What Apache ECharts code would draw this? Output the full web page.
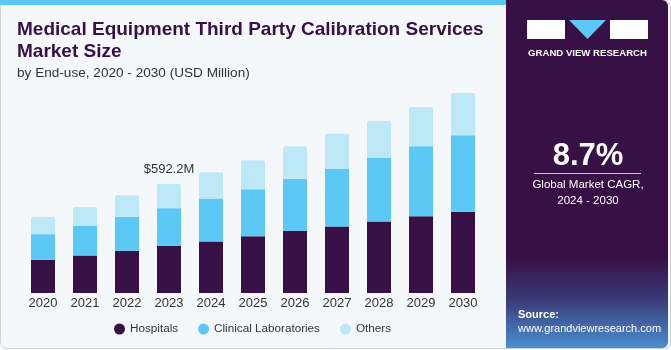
<!DOCTYPE html>
<html>
<head>
<meta charset="utf-8">
<script src="https://cdn.jsdelivr.net/npm/echarts@6/dist/echarts.min.js"></script>
<style>
  html, body { margin: 0; padding: 0; background: #ffffff; }
  #chart { width: 671px; height: 350px; }
</style>
</head>
<body>
<div id="chart"></div>
<script>
  var years = ['2020', '2021', '2022', '2023', '2024', '2025', '2026', '2027', '2028', '2029', '2030'];
  var hospitals = [180.4, 203.7, 229.2, 256.3, 279.6, 308.8, 337.5, 360.8, 387.9, 417.2, 440.5];
  var clinicalLabs = [139.2, 162.5, 184.2, 204.3, 233.0, 254.6, 283.4, 314.2, 345.1, 379.3, 415.6];
  var others = [93.7, 101.3, 117.6, 131.6, 143.0, 157.1, 175.5, 189.6, 200.5, 212.9, 229.2];
  var highlightLabel = '$592.2M';
  var highlightIndex = 3;

  var myChart = echarts.init(document.getElementById('chart'));

  var othersData = others.map(function(v, i) {
    if (i === highlightIndex) {
      return {
        value: v,
        label: {
          show: true,
          position: 'top',
          distance: 8,
          formatter: highlightLabel,
          color: '#333333',
          fontSize: 13,
          fontFamily: 'Liberation Sans'
        }
      };
    }
    return v;
  });

  var option = {
    animation: false,
    textStyle: { fontFamily: 'Liberation Sans' },
    graphic: [
      // page background + border
      {
        type: 'rect', z: -10, silent: true,
        shape: { x: 0.5, y: 0.5, width: 670, height: 348, r: 6 },
        style: { fill: '#f4f8fb', stroke: '#cfd3d6', lineWidth: 1 }
      },
      // top cyan stripe
      {
        type: 'rect', z: -9, silent: true,
        shape: { x: 0, y: 0, width: 506, height: 5 },
        style: { fill: '#5bc8f5' }
      },
      // right panel
      {
        type: 'rect', z: -9, silent: true,
        shape: { x: 506, y: 0, width: 162, height: 348, r: [0, 6, 6, 0] },
        style: {
          fill: new echarts.graphic.LinearGradient(0, 0, 0, 1, [
            { offset: 0, color: '#371046' },
            { offset: 0.74, color: '#371046' },
            { offset: 0.86, color: '#3a3a78' },
            { offset: 1, color: '#4a8fd2' }
          ])
        }
      },
      // logo
      {
        type: 'rect', silent: true,
        shape: { x: 527, y: 20, width: 38, height: 19 },
        style: { fill: '#ffffff' }
      },
      {
        type: 'polygon', silent: true,
        shape: { points: [[569, 20], [606, 20], [587.5, 39]] },
        style: { fill: '#5bc8f5' }
      },
      {
        type: 'rect', silent: true,
        shape: { x: 610, y: 20, width: 38, height: 19 },
        style: { fill: '#ffffff' }
      },
      {
        type: 'text', silent: true,
        style: {
          x: 587.5, y: 53, text: 'GRAND VIEW RESEARCH',
          align: 'center', verticalAlign: 'middle',
          fill: '#ffffff', font: 'bold 9.6px "Liberation Sans"'
        }
      },
      // CAGR
      {
        type: 'text', silent: true,
        style: {
          x: 588, y: 156, text: '8.7%',
          align: 'center', verticalAlign: 'middle',
          fill: '#ffffff', font: 'bold 31px "Liberation Sans"'
        }
      },
      {
        type: 'line', silent: true,
        shape: { x1: 534, y1: 173.5, x2: 641, y2: 173.5 },
        style: { stroke: '#cfc3d6', lineWidth: 1 }
      },
      {
        type: 'text', silent: true,
        style: {
          x: 588, y: 193, text: 'Global Market CAGR,\n2024 - 2030',
          align: 'center', verticalAlign: 'middle', lineHeight: 16,
          fill: '#ffffff', font: '11.5px "Liberation Sans"'
        }
      },
      // source
      {
        type: 'text', silent: true,
        style: {
          x: 518, y: 315, text: 'Source:',
          verticalAlign: 'middle',
          fill: '#ffffff', font: 'bold 11px "Liberation Sans"'
        }
      },
      {
        type: 'text', silent: true,
        style: {
          x: 518, y: 329, text: 'www.grandviewresearch.com',
          verticalAlign: 'middle',
          fill: '#ffffff', font: '11px "Liberation Sans"'
        }
      },
      // titles
      {
        type: 'text', silent: true,
        style: {
          x: 17, y: 30, text: 'Medical Equipment Third Party Calibration Services',
          verticalAlign: 'middle',
          fill: '#371046', font: 'bold 19px "Liberation Sans"'
        }
      },
      {
        type: 'text', silent: true,
        style: {
          x: 17, y: 52, text: 'Market Size',
          verticalAlign: 'middle',
          fill: '#371046', font: 'bold 19px "Liberation Sans"'
        }
      },
      {
        type: 'text', silent: true,
        style: {
          x: 17, y: 73, text: 'by End-use, 2020 - 2030 (USD Million)',
          verticalAlign: 'middle',
          fill: '#333333', font: '13.6px "Liberation Sans"'
        }
      }
    ],
    legend: {
      left: 109,
      top: 318,
      icon: 'circle',
      itemWidth: 11,
      itemHeight: 11,
      itemGap: 20,
      textStyle: { color: '#333333', fontSize: 11.7, fontFamily: 'Liberation Sans' },
      data: ['Hospitals', 'Clinical Laboratories', 'Others']
    },
    grid: { left: 22, right: 187, top: 72, bottom: 57 },
    xAxis: {
      type: 'category',
      data: years,
      axisLine: { show: false },
      axisTick: { show: false },
      axisLabel: { color: '#333333', fontSize: 13, margin: 4 }
    },
    yAxis: {
      type: 'value',
      min: 0,
      max: 1200,
      show: false,
      splitLine: { show: false }
    },
    series: [
      {
        name: 'Hospitals', type: 'bar', stack: 'total', barWidth: 24,
        itemStyle: { color: '#371046' },
        data: hospitals
      },
      {
        name: 'Clinical Laboratories', type: 'bar', stack: 'total', barWidth: 24,
        itemStyle: { color: '#5bc8f5' },
        data: clinicalLabs
      },
      {
        name: 'Others', type: 'bar', stack: 'total', barWidth: 24,
        itemStyle: { color: '#bde8f8', borderRadius: [2, 2, 0, 0] },
        data: othersData
      }
    ]
  };
  myChart.setOption(option);
</script>
</body>
</html>
